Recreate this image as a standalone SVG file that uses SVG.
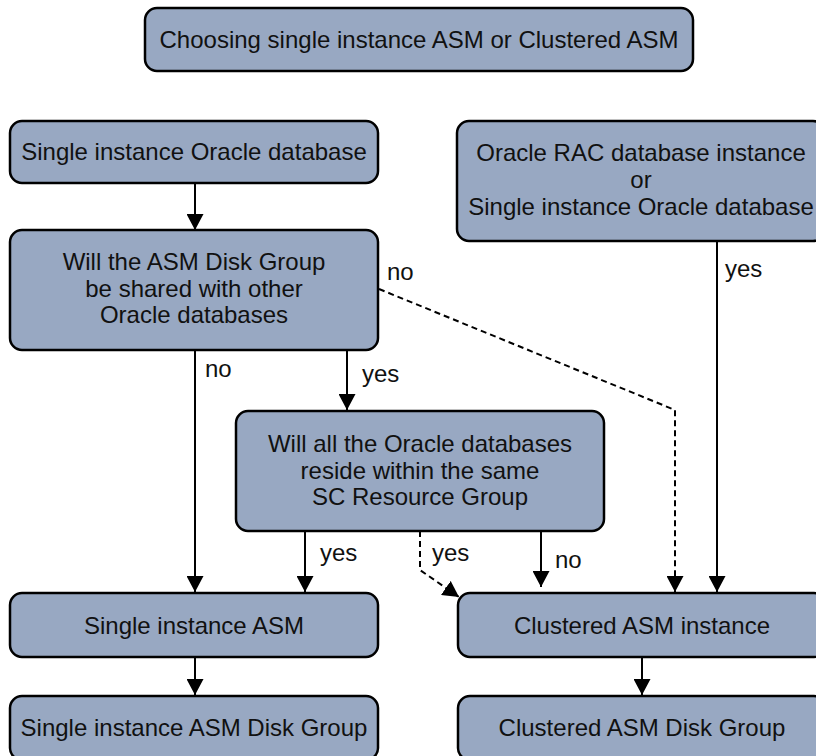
<svg xmlns="http://www.w3.org/2000/svg" width="816" height="756" viewBox="0 0 816 756">
<defs>
<marker id="ah" viewBox="0 0 16 17" refX="16" refY="8.5" markerWidth="16" markerHeight="17" markerUnits="userSpaceOnUse" orient="auto">
<path d="M0,0 L16,8.5 L0,17 Z" fill="#000"/>
</marker>
<style>
.box{fill:#98a8c2;stroke:#000;stroke-width:2.5}
.t{font-family:"Liberation Sans",Arial,sans-serif;font-size:24px;fill:#111;text-anchor:middle}
.lb{font-family:"Liberation Sans",Arial,sans-serif;font-size:24px;fill:#111}
.c{fill:none;stroke:#000;stroke-width:2}
.d{fill:none;stroke:#000;stroke-width:2;stroke-dasharray:6 4}
</style>
</defs>
<rect width="816" height="756" fill="#fff"/>
<g id="connectors">
<line class="c" x1="195" y1="183" x2="195" y2="230" marker-end="url(#ah)"/>
<line class="c" x1="195" y1="350" x2="195" y2="592" marker-end="url(#ah)"/>
<line class="c" x1="347" y1="350" x2="347" y2="410" marker-end="url(#ah)"/>
<polyline class="d" points="379,289 675,410 675,592" marker-end="url(#ah)"/>
<line class="c" x1="717" y1="241" x2="717" y2="592" marker-end="url(#ah)"/>
<line class="c" x1="305" y1="531" x2="305" y2="592" marker-end="url(#ah)"/>
<polyline class="d" points="420,531 420,570 459,597" marker-end="url(#ah)"/>
<line class="c" x1="541" y1="531" x2="541" y2="587" marker-end="url(#ah)"/>
<line class="c" x1="195" y1="657" x2="195" y2="695" marker-end="url(#ah)"/>
<line class="c" x1="642" y1="657" x2="642" y2="695" marker-end="url(#ah)"/>
<text class="lb" x="205" y="377">no</text>
<text class="lb" x="362" y="382">yes</text>
<text class="lb" x="387" y="280">no</text>
<text class="lb" x="725" y="277">yes</text>
<text class="lb" x="320" y="561">yes</text>
<text class="lb" x="432" y="561">yes</text>
<text class="lb" x="555" y="568">no</text>
</g>
<g id="title">
<rect class="box" x="145" y="8" width="548" height="63" rx="12"/>
<text class="t" x="419" y="48">Choosing single instance ASM or Clustered ASM</text>
</g>
<g id="single-db">
<rect class="box" x="10" y="121" width="368" height="62" rx="12"/>
<text class="t" x="194" y="160">Single instance Oracle database</text>
</g>
<g id="shared-q">
<rect class="box" x="10" y="230" width="368" height="120" rx="12"/>
<text class="t" x="194" y="270">Will the ASM Disk Group</text>
<text class="t" x="194" y="296.5">be shared with other</text>
<text class="t" x="194" y="323">Oracle databases</text>
</g>
<g id="rac-db">
<rect class="box" x="457" y="121" width="368" height="120" rx="12"/>
<text class="t" x="641" y="161">Oracle RAC database instance</text>
<text class="t" x="641" y="188">or</text>
<text class="t" x="641" y="215">Single instance Oracle database</text>
</g>
<g id="same-rg-q">
<rect class="box" x="236" y="411" width="368" height="120" rx="12"/>
<text class="t" x="420" y="452">Will all the Oracle databases</text>
<text class="t" x="420" y="478.5">reside within the same</text>
<text class="t" x="420" y="505">SC Resource Group</text>
</g>
<g id="single-asm">
<rect class="box" x="10" y="593" width="368" height="64" rx="12"/>
<text class="t" x="194" y="633.5">Single instance ASM</text>
</g>
<g id="clustered-asm">
<rect class="box" x="458" y="593" width="368" height="64" rx="12"/>
<text class="t" x="642" y="633.5">Clustered ASM instance</text>
</g>
<g id="single-dg">
<rect class="box" x="10" y="696" width="368" height="64" rx="12"/>
<text class="t" x="194" y="736">Single instance ASM Disk Group</text>
</g>
<g id="clustered-dg">
<rect class="box" x="458" y="696" width="368" height="64" rx="12"/>
<text class="t" x="642" y="736">Clustered ASM Disk Group</text>
</g>
</svg>
